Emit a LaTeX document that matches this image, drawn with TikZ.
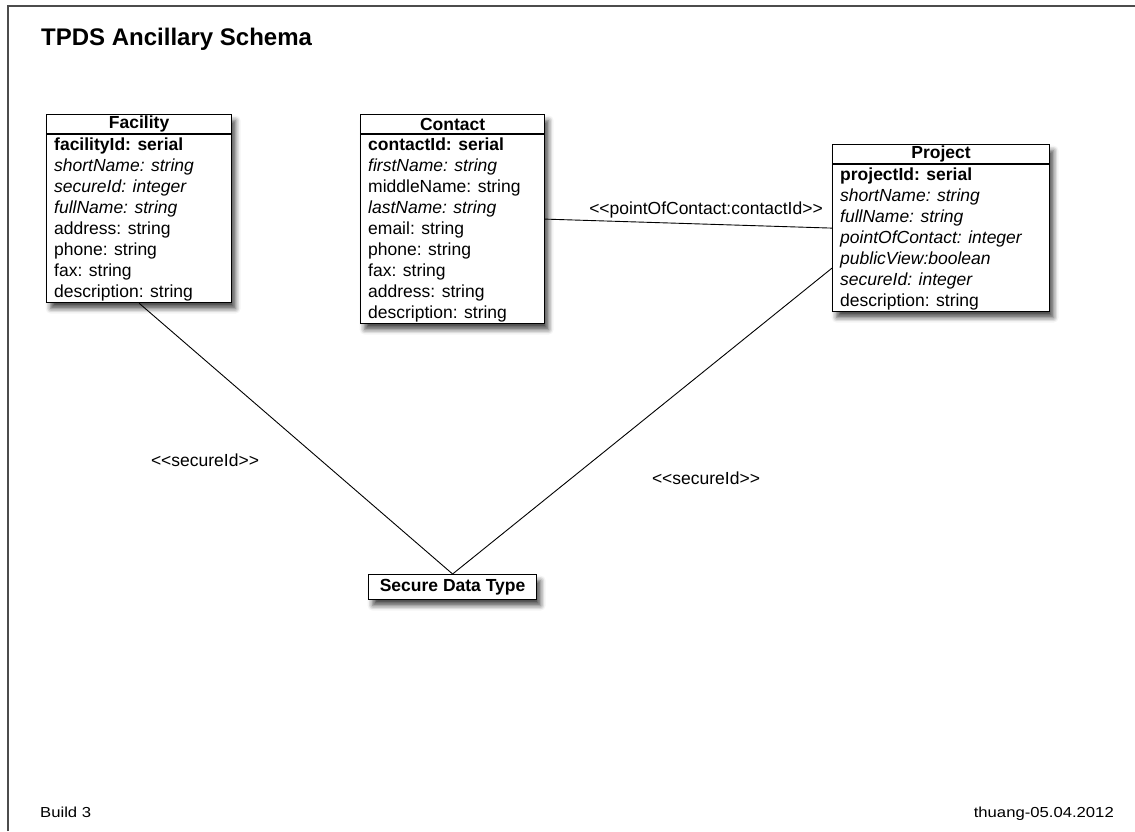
\documentclass[tikz,border=0pt]{standalone}
\usepackage{fontspec}
\setmainfont{Liberation Sans}
\newfontfamily\footfont[FakeStretch=1.15]{Liberation Sans}
\usetikzlibrary{shadows.blur}
\tikzset{
  umlbox/.style={draw, line width=1.2pt, fill=white, anchor=north west, inner sep=0pt,
    blur shadow={shadow xshift=4pt, shadow yshift=-6pt, shadow blur radius=5pt, shadow opacity=70}},
  field/.style={anchor=base west, inner sep=0pt},
  fb/.style={font=\fontsize{17.5}{21}\selectfont\bfseries},
  fi/.style={font=\fontsize{17.5}{21}\selectfont\itshape},
  fr/.style={font=\fontsize{17.5}{21}\selectfont},
  heading/.style={inner sep=0pt, font=\fontsize{17.5}{21}\selectfont\bfseries},
  assoc/.style={line width=0.9pt},
  role/.style={anchor=base, inner sep=0pt, font=\fontsize{17.5}{21}\selectfont}
}
\begin{document}
\begin{tikzpicture}[x=1pt, y=-1pt]
\useasboundingbox (0,0) rectangle (1135,831);
% frame and page texts
\draw[line width=1.6pt, black!70] (8,831) -- (8,6) -- (1135,6);
\node[anchor=base west, inner sep=0pt, font=\fontsize{24}{28}\selectfont\bfseries] (title) at (41,45) {TPDS Ancillary Schema};
\node[anchor=base west, inner sep=0pt, font=\footfont\fontsize{14.5}{17}\selectfont] (build) at (40,817) {Build 3};
\node[anchor=base east, inner sep=0pt, font=\footfont\fontsize{14.5}{17}\selectfont] (stamp) at (1114,817) {thuang-05.04.2012};

% Facility
\node[umlbox, minimum width=185pt, minimum height=188pt] (facility) at (46,114) {};
\draw[line width=1.2pt] ([yshift=-20pt]facility.north west) -- ([yshift=-20pt]facility.north east);
\node[heading] (facility-head) at ([yshift=-10pt]facility.north) {Facility};
\foreach \txt/\sty [count=\i from 0] in {facilityId: serial/fb, shortName: string/fi, secureId: integer/fi,
    fullName: string/fi, address: string/fr, phone: string/fr, fax: string/fr, description: string/fr}
  \node[field, \sty] (facility-\i) at ([xshift=8pt, yshift=-36pt-21pt*\i]facility.north west) {\txt};

% Contact
\node[umlbox, minimum width=184pt, minimum height=209pt] (contact) at (360,114) {};
\draw[line width=1.2pt] ([yshift=-20pt]contact.north west) -- ([yshift=-20pt]contact.north east);
\node[heading] (contact-head) at ([yshift=-10pt]contact.north) {Contact};
\foreach \txt/\sty [count=\i from 0] in {contactId: serial/fb, firstName: string/fi, middleName: string/fr,
    lastName: string/fi, email: string/fr, phone: string/fr, fax: string/fr, address: string/fr, description: string/fr}
  \node[field, \sty] (contact-\i) at ([xshift=8pt, yshift=-36pt-21pt*\i]contact.north west) {\txt};

% Project
\node[umlbox, minimum width=217pt, minimum height=167pt] (project) at (832,144) {};
\draw[line width=1.2pt] ([yshift=-20pt]project.north west) -- ([yshift=-20pt]project.north east);
\node[heading] (project-head) at ([yshift=-10pt]project.north) {Project};
\foreach \txt/\sty [count=\i from 0] in {projectId: serial/fb, shortName: string/fi, fullName: string/fi,
    pointOfContact: integer/fi, publicView:boolean/fi, secureId: integer/fi, description: string/fr}
  \node[field, \sty] (project-\i) at ([xshift=8pt, yshift=-36pt-21pt*\i]project.north west) {\txt};

% Secure Data Type
\node[umlbox, heading, minimum width=168pt, minimum height=25pt] (secure) at (368,574) {Secure Data Type};

% associations
\draw[assoc] (contact.east) -- (project.west);
\draw[assoc] (facility.south) -- (secure.north);
\draw[assoc] ([yshift=-40pt]project.west) -- (secure.north);
\node[role] (poc-role) at (706,214) {<{}<pointOfContact:contactId>{}>};
\node[role] (facility-role) at (205,466) {<{}<secureId>{}>};
\node[role] (project-role) at (706,484) {<{}<secureId>{}>};
\end{tikzpicture}
\end{document}
